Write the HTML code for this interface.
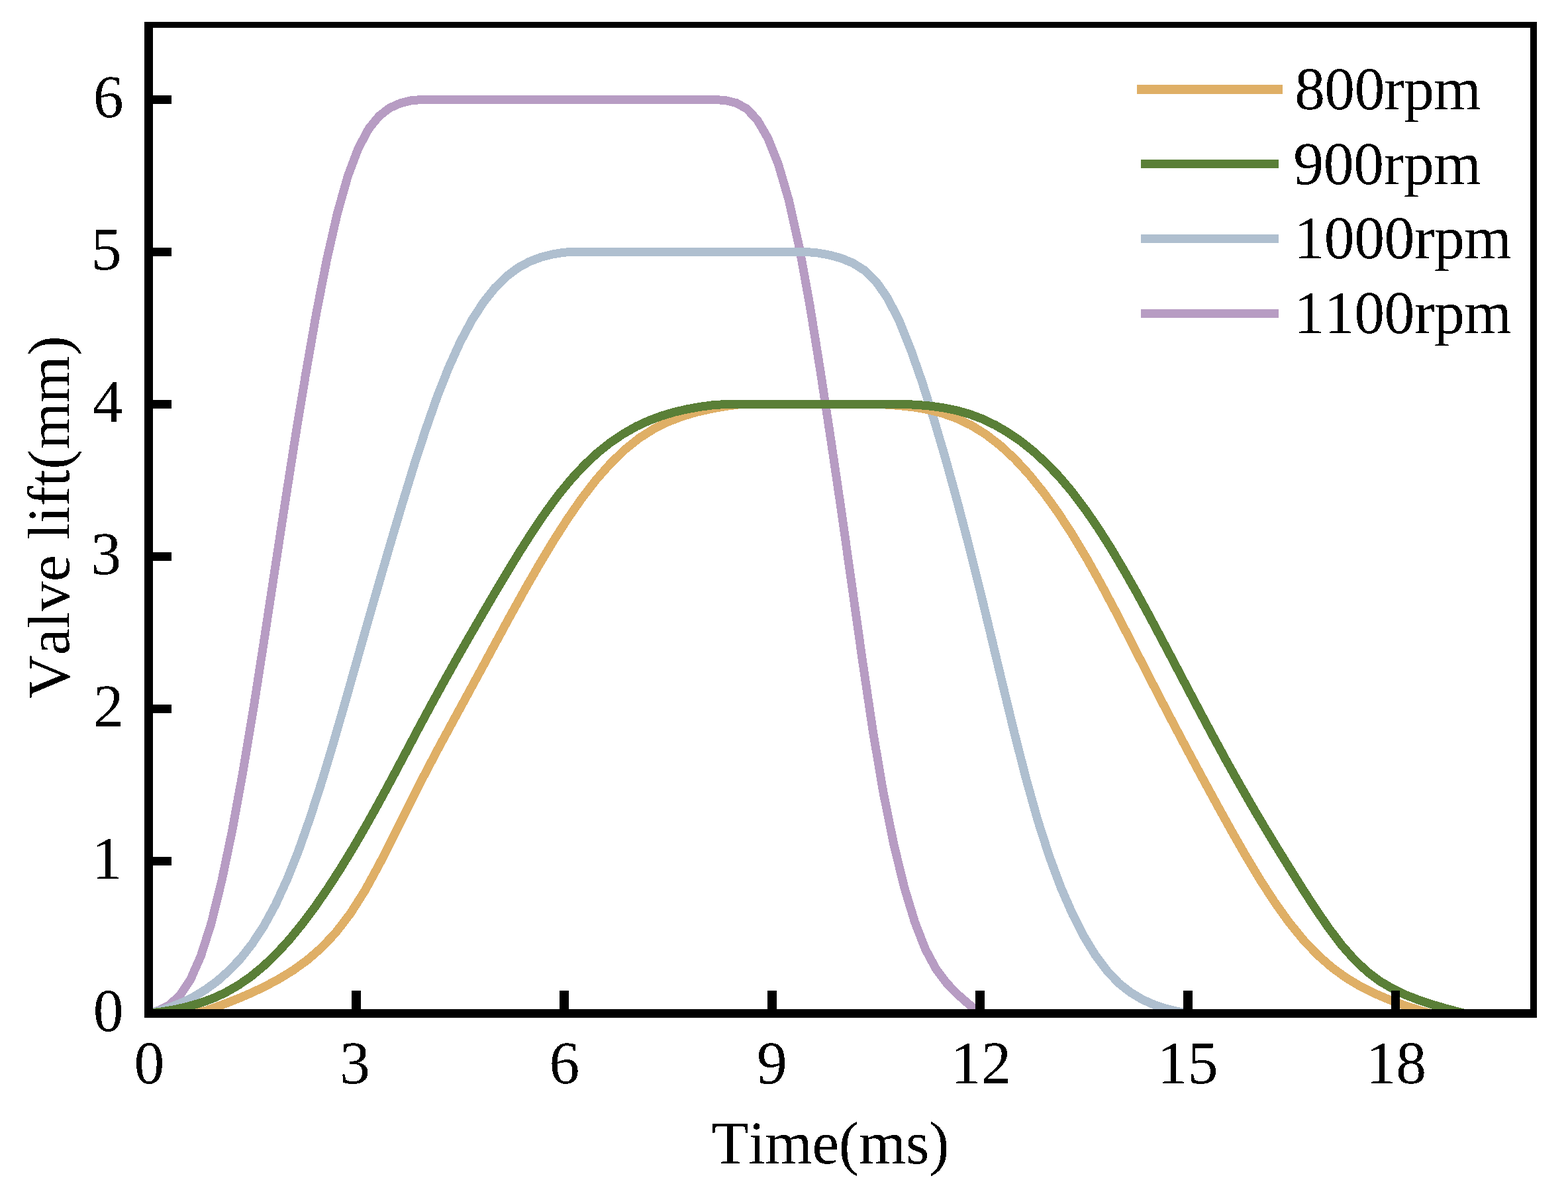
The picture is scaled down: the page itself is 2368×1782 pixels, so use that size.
<!DOCTYPE html>
<html lang="en">
<head>
<meta charset="utf-8">
<title>Valve lift vs time</title>
<style>
html,body{margin:0;padding:0;background:#fff;}
body{width:2368px;height:1782px;overflow:hidden;}
svg{display:block;}
text{font-family:"Liberation Serif", "Times New Roman", Times, serif;font-size:91.67px;fill:#000;filter:url(#bw);font-kerning:none;font-variant-ligatures:none;text-rendering:geometricPrecision;}
.c{fill:none;stroke-linejoin:miter;stroke-miterlimit:10;stroke-linecap:butt;}
</style>
</head>
<body>
<svg xmlns="http://www.w3.org/2000/svg" width="2368" height="1782" viewBox="0 0 2368 1782">
<rect x="0" y="0" width="2368" height="1782" fill="#ffffff"/>
<defs><clipPath id="plot"><rect x="218" y="33" width="2103" height="1504"/></clipPath>
<filter id="bw" x="-5%" y="-20%" width="110%" height="140%" color-interpolation-filters="sRGB"><feComponentTransfer><feFuncA type="discrete" tableValues="0 1"/></feComponentTransfer></filter></defs>
<g clip-path="url(#plot)" shape-rendering="crispEdges">
<path class="c" d="M224.0 1530.5 L239.9 1526.0 L255.7 1517.8 L271.6 1503.4 L287.4 1479.8 L303.3 1443.9 L319.2 1393.8 L335.0 1329.6 L350.9 1253.1 L366.7 1166.4 L382.6 1071.3 L398.4 969.9 L414.3 865.5 L430.2 761.4 L446.0 660.2 L461.9 563.6 L477.7 473.3 L493.6 391.8 L509.5 322.0 L525.3 266.0 L541.2 223.8 L557.0 194.2 L572.9 174.9 L588.7 162.9 L604.6 155.8 L620.5 151.9 L636.3 150.5 L652.2 150.5 L668.0 150.5 L683.9 150.5 L699.8 150.5 L715.6 150.5 L731.5 150.5 L747.3 150.5 L763.2 150.5 L779.1 150.5 L794.9 150.5 L810.8 150.5 L826.6 150.5 L842.5 150.5 L858.3 150.5 L874.2 150.5 L890.1 150.5 L905.9 150.5 L921.8 150.5 L937.6 150.5 L953.5 150.5 L969.4 150.5 L985.2 150.5 L1001.1 150.5 L1016.9 150.5 L1032.8 150.5 L1048.6 150.5 L1064.5 150.5 L1080.4 150.5 L1096.2 151.7 L1112.1 155.6 L1127.9 164.4 L1143.8 181.3 L1159.7 208.7 L1175.5 248.3 L1191.4 302.6 L1207.2 373.9 L1223.1 461.5 L1238.9 560.0 L1254.8 664.2 L1270.7 772.2 L1286.5 884.1 L1302.4 997.0 L1318.2 1103.7 L1334.1 1197.4 L1350.0 1275.8 L1365.8 1340.5 L1381.7 1392.8 L1397.5 1433.4 L1413.4 1463.0 L1429.3 1484.3 L1445.1 1500.7 L1461.0 1514.7 L1476.8 1527.9 L1480.0 1530.5" stroke="#b79cc3" stroke-width="13"/>
<path class="c" d="M224.0 1530.5 L241.4 1526.1 L258.9 1520.5 L276.3 1513.5 L293.8 1504.7 L311.2 1494.0 L328.7 1481.1 L346.1 1465.6 L363.6 1447.2 L381.0 1425.1 L398.4 1398.5 L415.9 1366.5 L433.3 1328.7 L450.8 1284.9 L468.2 1235.5 L485.7 1181.3 L503.1 1123.3 L520.6 1062.8 L538.0 1001.2 L555.4 939.6 L572.9 878.6 L590.3 818.6 L607.8 759.8 L625.2 703.0 L642.7 649.2 L660.1 599.5 L677.6 555.1 L695.0 516.6 L712.4 483.9 L729.9 456.9 L747.3 434.9 L764.8 417.6 L782.2 404.5 L799.7 395.0 L817.1 388.4 L834.6 384.0 L852.0 381.1 L869.4 380.5 L886.9 380.5 L904.3 380.5 L921.8 380.5 L939.2 380.5 L956.7 380.5 L974.1 380.5 L991.6 380.5 L1009.0 380.5 L1026.4 380.5 L1043.9 380.5 L1061.3 380.5 L1078.8 380.5 L1096.2 380.5 L1113.7 380.5 L1131.1 380.5 L1148.6 380.5 L1166.0 380.5 L1183.4 380.5 L1200.9 380.5 L1218.3 380.5 L1235.8 382.1 L1253.2 385.3 L1270.7 390.1 L1288.1 397.3 L1305.6 408.3 L1323.0 425.2 L1340.4 450.1 L1357.9 484.4 L1375.3 527.5 L1392.8 577.5 L1410.2 632.6 L1427.7 691.9 L1445.1 755.0 L1462.6 821.7 L1480.0 891.4 L1497.4 963.5 L1514.9 1036.6 L1532.3 1108.5 L1549.8 1176.8 L1567.2 1238.8 L1584.7 1293.3 L1602.1 1340.2 L1619.6 1380.2 L1637.0 1414.3 L1654.4 1442.8 L1671.9 1466.1 L1689.3 1484.5 L1706.8 1498.4 L1724.2 1508.9 L1741.7 1516.8 L1759.1 1522.7 L1776.6 1527.1 L1794.0 1530.5" stroke="#afbfcf" stroke-width="13"/>
<path class="c" d="M289.4 1530.5 L311.2 1526.2 L333.0 1518.4 L354.8 1510.0 L376.6 1500.8 L398.4 1490.6 L420.3 1479.0 L442.1 1465.7 L463.9 1450.0 L485.7 1431.1 L507.5 1407.9 L529.3 1379.4 L551.1 1345.0 L572.9 1305.2 L594.7 1262.1 L616.5 1218.2 L638.3 1175.2 L660.1 1133.6 L681.9 1093.3 L703.7 1053.3 L725.5 1013.2 L747.3 972.9 L769.1 932.8 L790.9 893.4 L812.8 855.2 L834.6 818.8 L856.4 784.7 L878.2 753.2 L900.0 724.9 L921.8 700.1 L943.6 679.0 L965.4 661.6 L987.2 647.8 L1009.0 637.0 L1030.8 628.6 L1052.6 622.2 L1074.4 617.3 L1096.2 613.5 L1118.0 610.6 L1139.8 610.5 L1161.6 610.5 L1183.4 610.5 L1205.3 610.5 L1227.1 610.5 L1248.9 610.5 L1270.7 610.5 L1292.5 610.5 L1314.3 610.5 L1336.1 610.9 L1357.9 612.5 L1379.7 614.9 L1401.5 618.6 L1423.3 624.1 L1445.1 631.9 L1466.9 642.4 L1488.7 655.9 L1510.5 672.7 L1532.3 692.9 L1554.1 716.5 L1575.9 743.6 L1597.8 773.9 L1619.6 807.4 L1641.4 843.8 L1663.2 882.8 L1685.0 923.8 L1706.8 966.2 L1728.6 1008.9 L1750.4 1051.3 L1772.2 1093.1 L1794.0 1134.2 L1815.8 1174.7 L1837.6 1214.7 L1859.4 1254.0 L1881.2 1292.2 L1903.0 1328.5 L1924.8 1362.2 L1946.6 1392.7 L1968.4 1419.5 L1990.3 1442.5 L2012.1 1461.6 L2033.9 1477.3 L2055.7 1490.3 L2077.5 1501.0 L2099.3 1510.2 L2121.1 1518.3 L2142.9 1525.4 L2160.3 1530.5" stroke="#dfaf66" stroke-width="13"/>
<path class="c" d="M224.0 1530.5 L243.4 1528.0 L262.8 1524.8 L282.1 1520.5 L301.5 1515.0 L320.9 1508.0 L340.3 1499.1 L359.7 1488.0 L379.1 1474.6 L398.4 1458.6 L417.8 1440.0 L437.2 1418.8 L456.6 1395.1 L476.0 1369.1 L495.4 1341.0 L514.7 1311.0 L534.1 1279.2 L553.5 1245.7 L572.9 1210.9 L592.3 1175.0 L611.7 1138.5 L631.0 1102.0 L650.4 1065.9 L669.8 1030.5 L689.2 995.8 L708.6 961.9 L728.0 928.4 L747.3 895.4 L766.7 862.9 L786.1 831.2 L805.5 800.8 L824.9 772.3 L844.2 746.2 L863.6 722.7 L883.0 701.9 L902.4 683.8 L921.8 668.3 L941.2 655.2 L960.5 644.2 L979.9 635.2 L999.3 628.0 L1018.7 622.2 L1038.1 617.8 L1057.5 614.3 L1076.8 611.7 L1096.2 610.5 L1115.6 610.5 L1135.0 610.5 L1154.4 610.5 L1173.8 610.5 L1193.1 610.5 L1212.5 610.5 L1231.9 610.5 L1251.3 610.5 L1270.7 610.5 L1290.0 610.5 L1309.4 610.5 L1328.8 610.5 L1348.2 610.5 L1367.6 610.5 L1387.0 611.5 L1406.3 613.3 L1425.7 616.0 L1445.1 620.0 L1464.5 625.5 L1483.9 632.8 L1503.3 642.1 L1522.6 653.4 L1542.0 666.7 L1561.4 682.3 L1580.8 700.2 L1600.2 720.5 L1619.6 743.5 L1638.9 769.2 L1658.3 797.4 L1677.7 828.0 L1697.1 860.6 L1716.5 894.8 L1735.9 930.4 L1755.2 966.7 L1774.6 1003.5 L1794.0 1040.5 L1813.4 1077.2 L1832.8 1113.5 L1852.1 1149.0 L1871.5 1183.6 L1890.9 1217.4 L1910.3 1250.2 L1929.7 1282.1 L1949.1 1313.5 L1968.4 1344.3 L1987.8 1374.1 L2007.2 1402.3 L2026.6 1427.8 L2046.0 1449.8 L2065.4 1467.9 L2084.7 1482.3 L2104.1 1493.6 L2123.5 1502.8 L2142.9 1510.3 L2162.3 1516.8 L2181.7 1522.5 L2201.0 1527.7 L2212.7 1530.5" stroke="#5a7f37" stroke-width="13"/>
</g>
<g fill="#000" shape-rendering="crispEdges">
<rect x="218" y="33" width="13" height="1504"/>
<rect x="218" y="1524" width="2103" height="13"/>
<rect x="218" y="33" width="2103" height="9"/>
<rect x="2311" y="33" width="10" height="1504"/>
<rect x="231" y="1294" width="28" height="13"/>
<rect x="231" y="1064" width="28" height="13"/>
<rect x="231" y="834" width="28" height="13"/>
<rect x="231" y="604" width="28" height="13"/>
<rect x="231" y="374" width="28" height="13"/>
<rect x="231" y="144" width="28" height="13"/>
<rect x="531" y="1496" width="14" height="28"/>
<rect x="845" y="1496" width="14" height="28"/>
<rect x="1159" y="1496" width="14" height="28"/>
<rect x="1473" y="1496" width="14" height="28"/>
<rect x="1787" y="1496" width="14" height="28"/>
<rect x="2101" y="1496" width="13" height="28"/>
</g>
<g>
<text x="140.66" y="1557.00">0</text>
<text x="138.76" y="1327.00">1</text>
<text x="140.76" y="1097.00">2</text>
<text x="137.26" y="867.00">3</text>
<text x="139.86" y="637.00">4</text>
<text x="137.76" y="407.00">5</text>
<text x="140.76" y="177.00">6</text>
<text x="202.58" y="1636.00">0</text>
<text x="512.98" y="1636.00">3</text>
<text x="829.38" y="1636.00">6</text>
<text x="1143.08" y="1636.00">9</text>
<text x="1435.77" y="1636.00">12</text>
<text x="1747.87" y="1636.00">15</text>
<text x="2062.47" y="1636.00">18</text>
</g>
<text x="1074.76" y="1756.80" textLength="358.89" lengthAdjust="spacing">Time(ms)</text>
<text transform="translate(104.40 781.10) rotate(-90)" x="-273.82" y="0" textLength="547.64" lengthAdjust="spacing" style="font-size:90.6px">Valve lift(mm)</text>
<g shape-rendering="crispEdges">
<rect x="1717" y="128" width="220" height="14" fill="#dfaf66"/>
<rect x="1723" y="241" width="208" height="13" fill="#5a7f37"/>
<rect x="1723" y="354" width="208" height="13" fill="#afbfcf"/>
<rect x="1723" y="467" width="208" height="13" fill="#b79cc3"/>
</g>
<text x="1955.20" y="165.00" textLength="281.57" lengthAdjust="spacing">800rpm</text>
<text x="1953.30" y="278.00" textLength="283.47" lengthAdjust="spacing">900rpm</text>
<text x="1954.30" y="390.00" textLength="328.51" lengthAdjust="spacing">1000rpm</text>
<text x="1954.30" y="503.00" textLength="328.51" lengthAdjust="spacing">1100rpm</text>
</svg>
</body>
</html>
